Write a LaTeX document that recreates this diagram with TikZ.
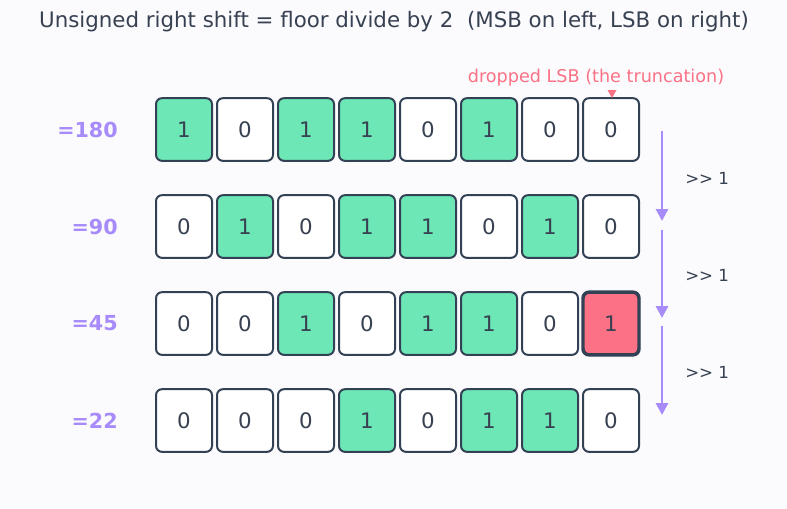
\documentclass[tikz,border=0pt]{standalone}
\usepackage{fontspec}
\setmainfont{DejaVu Sans}
\usetikzlibrary{arrows.meta}
\definecolor{bg}{HTML}{FBFBFE}
\definecolor{ink}{HTML}{374151}
\definecolor{edge}{HTML}{334155}
\definecolor{mint}{HTML}{6EE7B7}
\definecolor{rose}{HTML}{FB7185}
\definecolor{lila}{HTML}{A78BFA}
\begin{document}
\begin{tikzpicture}[x=0.75pt, y=-0.75pt,
    bit/.style={draw=edge, line width=1.5pt, rounded corners=4.5pt, minimum width=42pt,
      minimum height=47pt, inner sep=0pt, text=ink, font=\fontsize{16}{19}\selectfont},
    b0/.style={fill=white},
    b1/.style={fill=mint},
    value/.style={anchor=east, inner sep=0pt, text=lila, font=\fontsize{15.5}{18}\selectfont\bfseries},
    shiftarrow/.style={lila, line width=2.2pt, -{Triangle[length=9pt, width=9pt]}},
    shiftlabel/.style={anchor=west, inner sep=0pt, text=ink, font=\fontsize{12.5}{15}\selectfont}]
  % Sfondo
  \fill[bg] (0,0) rectangle (787,508);
  % Titolo
  \node[text=ink, font=\fontsize{16}{19}\selectfont] (title) at (394,22)
    {Unsigned right shift = floor divide by 2\ \ (MSB on left, LSB on right)};
  % Righe di bit
  \foreach \val/\bits [count=\r] in {180/{1,0,1,1,0,1,0,0}, 90/{0,1,0,1,1,0,1,0},
      45/{0,0,1,0,1,1,0,1}, 22/{0,0,0,1,0,1,1,0}} {
    \node[value] (v\r) at (118, 32.5+97*\r) {=\val};
    \foreach \b [count=\c] in \bits
      \node[bit, b\b] (r\r c\c) at (123+61*\c, 32.5+97*\r) {\b};
  }
  % LSB scartato
  \node[bit, fill=rose, line width=2.6pt] (lsb) at (r3c8) {1};
  \node[text=rose, font=\fontsize{13.2}{16}\selectfont] (note) at (596,78)
    {dropped LSB (the truncation)};
  \fill[rose] (607.5,90) -- (616.5,90) -- (612,98) -- cycle;
  % Frecce di shift
  \foreach \i/\ya/\yb in {1/131/221, 2/230/318, 3/326/415} {
    \coordinate (s\i) at (662,\ya);
    \coordinate (e\i) at (662,\yb);
    \draw[shiftarrow] (s\i) -- (e\i);
    \node[shiftlabel] (l\i) at (685, 81+97*\i) {>\kern0pt> 1};
  }
\end{tikzpicture}
\end{document}
